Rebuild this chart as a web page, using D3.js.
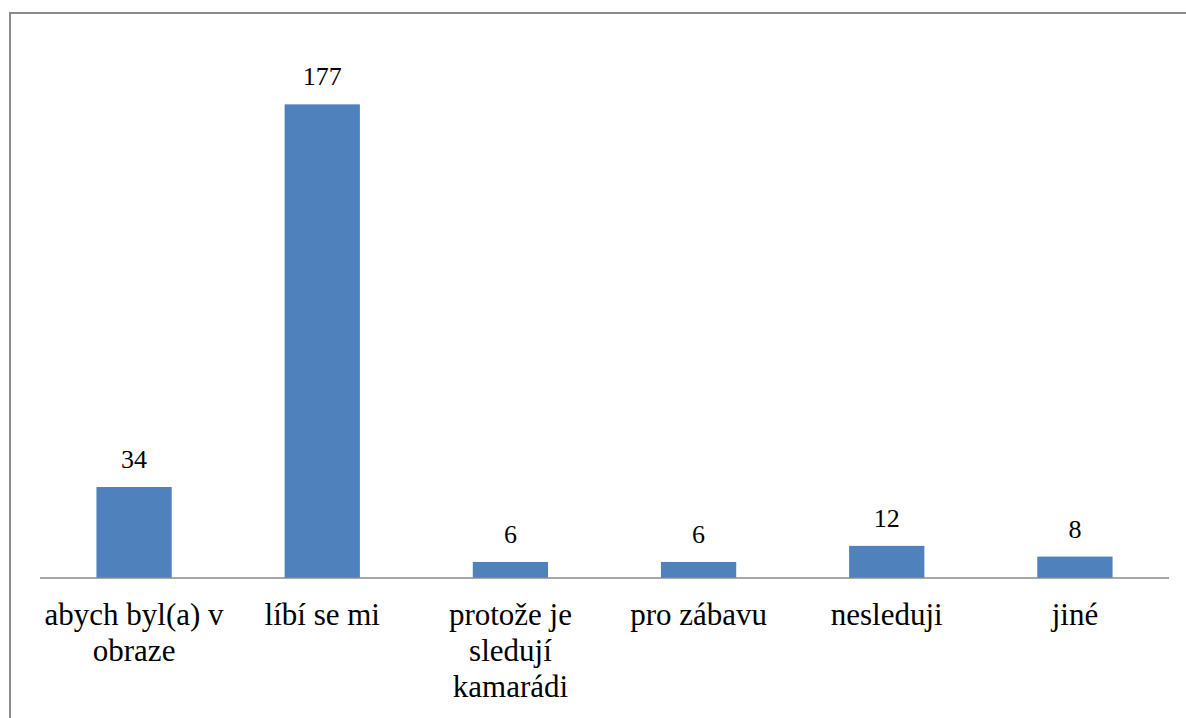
<!DOCTYPE html>
<html>
<head>
<meta charset="utf-8">
<script src="https://cdn.jsdelivr.net/npm/d3@7"></script>
<style>
  html, body { margin: 0; padding: 0; background: #fff; }
  svg { display: block; font-family: "Liberation Serif", serif; }
</style>
</head>
<body>
<script>
// Survey answers: reasons for watching
const categories = ["abych byl(a) v obraze", "líbí se mi", "protože je sledují kamarádi", "pro zábavu", "nesleduji", "jiné"];
const counts = [34, 177, 6, 6, 12, 8];
const yDomain = [0, 200];

const W = 1186, H = 718;
const svg = d3.select("body").append("svg")
  .attr("width", W).attr("height", H);

// chart frame
svg.append("rect")
  .attr("x", 10).attr("y", 13)
  .attr("width", W + 20).attr("height", H + 20)
  .attr("fill", "#fff")
  .attr("stroke", "#8a8a8a")
  .attr("stroke-width", 2);

const x = d3.scaleBand()
  .domain(categories)
  .range([40, 1169])
  .paddingInner(0.6)
  .paddingOuter(0.3);

const y = d3.scaleLinear().domain(yDomain).range([578, 42.8]);

// bars
svg.append("g").selectAll("rect")
  .data(categories)
  .join("rect")
  .attr("x", d => x(d))
  .attr("y", (d, i) => y(counts[i]))
  .attr("width", x.bandwidth())
  .attr("height", (d, i) => y(0) - y(counts[i]))
  .attr("fill", "#4F81BD");

// value labels above the bars
svg.append("g")
  .attr("font-size", 26)
  .attr("text-anchor", "middle")
  .selectAll("text")
  .data(categories)
  .join("text")
  .attr("x", d => x(d) + x.bandwidth() / 2)
  .attr("y", (d, i) => y(counts[i]) - 19)
  .attr("fill", "#000")
  .text((d, i) => counts[i]);

// category axis line
const axis = svg.append("g")
  .attr("transform", `translate(0,${y(0)})`)
  .call(d3.axisBottom(x).tickSize(0).tickPadding(0));
axis.attr("font-family", null).attr("font-size", 31);
axis.select(".domain").attr("stroke", "#8a8a8a").attr("stroke-width", 1.3)
  .attr("d", "M40,0H1169");
axis.selectAll(".tick text").remove();

// category labels, wrapped to the band
const maxLabelWidth = 186;
const measurer = axis.append("text").attr("visibility", "hidden");
function wrap(str) {
  const words = str.split(" ");
  const lines = [];
  let cur = "";
  for (const w of words) {
    const test = cur ? cur + " " + w : w;
    measurer.text(test);
    if (cur && measurer.node().getComputedTextLength() > maxLabelWidth) {
      lines.push(cur);
      cur = w;
    } else {
      cur = test;
    }
  }
  if (cur) lines.push(cur);
  return lines;
}

axis.selectAll(".tick").each(function(d) {
  const lines = wrap(d);
  const t = d3.select(this).append("text")
    .attr("text-anchor", "middle")
    .attr("fill", "#000");
  lines.forEach((ln, k) => {
    t.append("tspan").attr("x", 0).attr("y", 47 + k * 36).text(ln);
  });
});
measurer.remove();
</script>
</body>
</html>
